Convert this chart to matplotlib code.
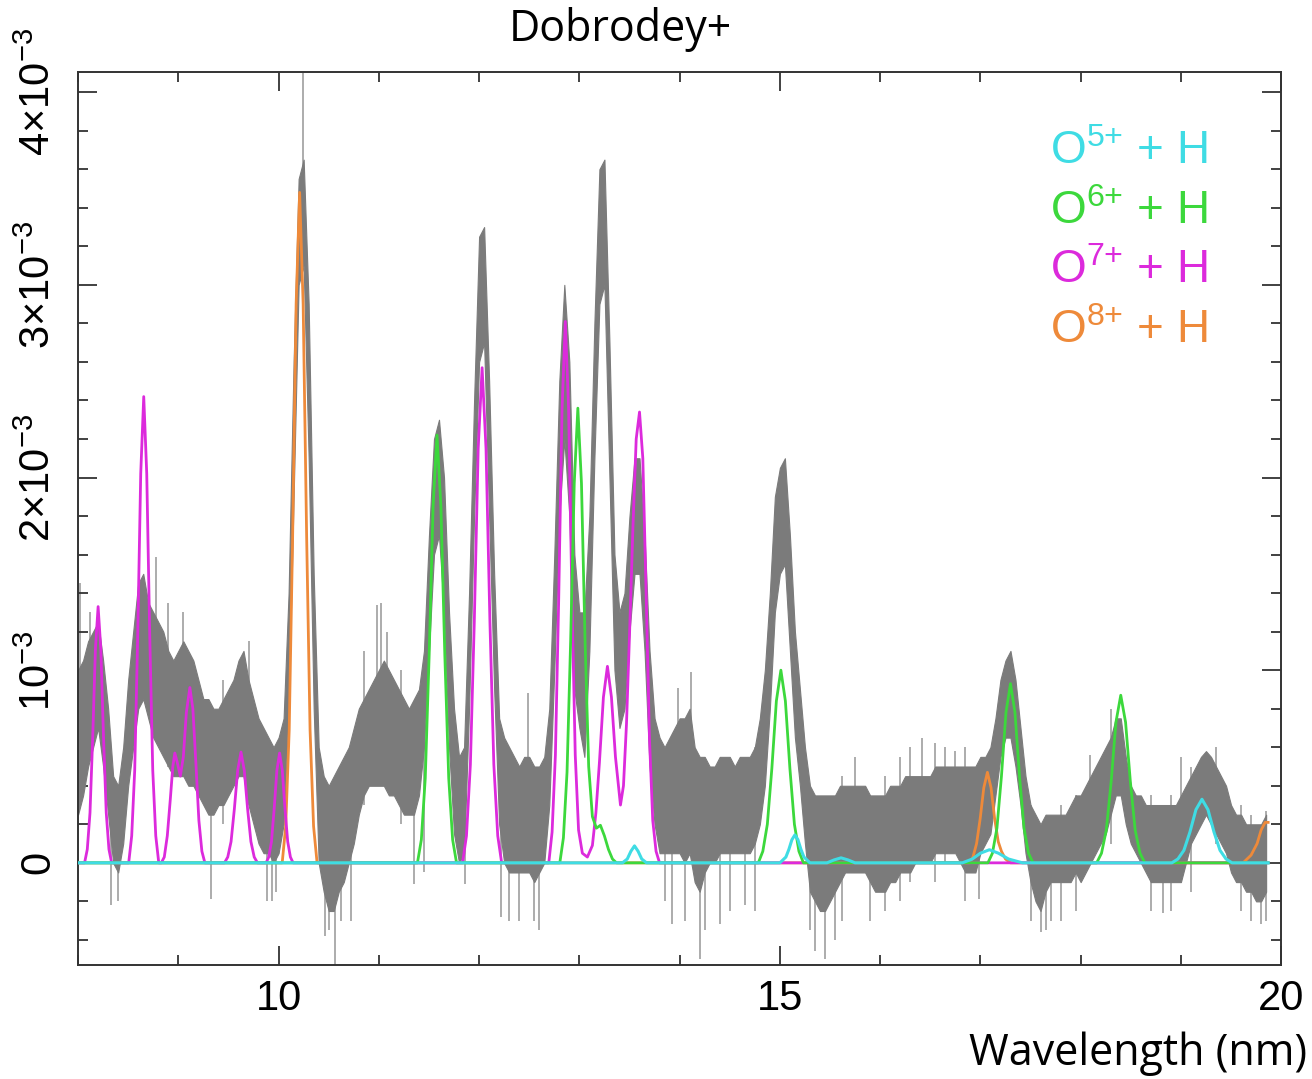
import numpy as np
import matplotlib.pyplot as plt

plt.rcParams['font.family'] = ['Liberation Sans', 'DejaVu Sans']
plt.rcParams['mathtext.fontset'] = 'custom'
plt.rcParams['mathtext.rm'] = 'Liberation Sans'
plt.rcParams['mathtext.it'] = 'Liberation Sans:italic'
plt.rcParams['mathtext.default'] = 'regular'

# measured spectrum, in units of 1e-3, read every 0.05 nm from 8.00 to 19.85 nm
wave = np.linspace(8.0, 19.85, 238)
data_hi = [
    1.00, 1.05, 1.15, 1.20, 1.25, 1.05, 0.80, 0.45, 0.40, 0.60, 0.95, 1.20, 1.45, 1.50, 1.35, 1.30, 1.25, 1.20, 1.10, 1.05,
    1.10, 1.15, 1.10, 1.05, 0.95, 0.85, 0.85, 0.80, 0.80, 0.85, 0.90, 0.95, 1.05, 1.10, 0.95, 0.85, 0.75, 0.70, 0.65, 0.60,
    0.65, 0.75, 1.40, 2.60, 3.55, 3.65, 2.90, 1.50, 0.60, 0.45, 0.40, 0.45, 0.50, 0.55, 0.60, 0.70, 0.80, 0.85, 0.90, 0.95,
    1.00, 1.05, 1.00, 0.95, 0.90, 0.85, 0.80, 0.85, 0.90, 1.10, 1.70, 2.20, 2.30, 2.00, 1.30, 0.80, 0.55, 0.60, 1.40, 2.40,
    3.25, 3.30, 2.50, 1.50, 0.75, 0.65, 0.60, 0.55, 0.50, 0.55, 0.55, 0.50, 0.50, 0.55, 0.80, 1.60, 2.50, 3.00, 2.60, 1.60,
    1.30, 1.30, 1.80, 2.80, 3.60, 3.65, 2.70, 1.60, 1.30, 1.40, 1.80, 2.10, 2.10, 1.70, 1.10, 0.75, 0.65, 0.60, 0.65, 0.70,
    0.75, 0.75, 0.80, 0.60, 0.55, 0.55, 0.50, 0.50, 0.55, 0.55, 0.55, 0.50, 0.55, 0.55, 0.55, 0.60, 0.75, 1.00, 1.40, 1.90,
    2.05, 2.10, 1.70, 1.20, 0.90, 0.60, 0.40, 0.35, 0.35, 0.35, 0.35, 0.35, 0.40, 0.40, 0.40, 0.40, 0.40, 0.40, 0.35, 0.35,
    0.35, 0.35, 0.40, 0.40, 0.40, 0.45, 0.45, 0.45, 0.45, 0.45, 0.45, 0.50, 0.50, 0.50, 0.50, 0.50, 0.50, 0.50, 0.50, 0.50,
    0.55, 0.55, 0.60, 0.75, 0.95, 1.05, 1.10, 0.95, 0.70, 0.45, 0.30, 0.25, 0.20, 0.25, 0.25, 0.25, 0.25, 0.25, 0.30, 0.35,
    0.35, 0.40, 0.45, 0.50, 0.55, 0.60, 0.65, 0.75, 0.75, 0.55, 0.40, 0.35, 0.35, 0.30, 0.30, 0.30, 0.30, 0.30, 0.30, 0.30,
    0.35, 0.40, 0.45, 0.50, 0.55, 0.58, 0.55, 0.50, 0.45, 0.40, 0.30, 0.25, 0.25, 0.20, 0.20, 0.20, 0.20, 0.25,
]
data_lo = [
    0.25, 0.35, 0.50, 0.60, 0.70, 0.50, 0.25, 0.00, -0.05, 0.10, 0.40, 0.60, 0.80, 0.85, 0.75, 0.65, 0.60, 0.55, 0.50, 0.45,
    0.45, 0.45, 0.40, 0.40, 0.35, 0.30, 0.25, 0.25, 0.30, 0.30, 0.35, 0.40, 0.45, 0.45, 0.30, 0.20, 0.10, 0.05, 0.05, 0.00,
    0.05, 0.20, 0.80, 1.90, 3.00, 3.10, 2.10, 0.80, 0.00, -0.15, -0.25, -0.25, -0.15, -0.10, 0.00, 0.10, 0.25, 0.35, 0.40, 0.40,
    0.40, 0.40, 0.35, 0.35, 0.30, 0.25, 0.25, 0.25, 0.35, 0.60, 1.10, 1.60, 1.70, 1.30, 0.60, 0.15, 0.00, 0.05, 0.80, 1.80,
    2.60, 2.70, 1.80, 0.90, 0.20, 0.00, -0.05, -0.05, -0.05, -0.05, -0.05, -0.10, -0.05, 0.00, 0.30, 1.00, 1.80, 2.20, 1.80, 0.90,
    0.70, 0.55, 1.10, 2.10, 2.90, 3.00, 2.00, 1.00, 0.70, 0.80, 1.20, 1.50, 1.50, 1.10, 0.50, 0.20, 0.05, 0.05, 0.05, 0.05,
    0.05, 0.00, 0.05, -0.10, -0.15, -0.05, 0.00, 0.00, 0.05, 0.05, 0.05, 0.05, 0.05, 0.05, 0.05, 0.10, 0.20, 0.40, 0.80, 1.30,
    1.50, 1.55, 1.10, 0.65, 0.40, 0.10, -0.15, -0.20, -0.25, -0.25, -0.20, -0.15, -0.10, -0.05, -0.05, -0.05, -0.05, -0.05, -0.10, -0.15,
    -0.15, -0.15, -0.10, -0.10, -0.05, -0.05, -0.05, 0.00, 0.00, 0.00, 0.00, 0.05, 0.05, 0.05, 0.05, 0.05, 0.00, -0.05, -0.05, -0.05,
    0.05, 0.10, 0.15, 0.35, 0.55, 0.65, 0.65, 0.50, 0.30, 0.05, -0.10, -0.20, -0.25, -0.15, -0.10, -0.10, -0.10, -0.10, -0.10, -0.05,
    -0.10, -0.05, 0.00, 0.05, 0.10, 0.15, 0.25, 0.35, 0.35, 0.20, 0.10, 0.05, 0.00, -0.05, -0.10, -0.10, -0.10, -0.10, -0.10, -0.10,
    -0.10, 0.00, 0.10, 0.15, 0.20, 0.25, 0.20, 0.15, 0.10, 0.05, -0.05, -0.10, -0.10, -0.15, -0.15, -0.20, -0.20, -0.15,
]

# single outlying error bars
spike_x = [8.02, 8.12, 8.33, 8.40, 8.78, 8.90, 9.05, 9.33, 9.45, 9.70, 9.88, 9.93, 9.97, 10.24,
           10.46, 10.50, 10.56, 10.62, 10.72, 10.85, 10.98, 11.02, 11.08, 11.22, 11.35, 11.45,
           11.86, 12.22, 12.30, 12.40, 12.49, 12.55, 12.60, 13.85, 13.92, 13.98, 14.05, 14.11,
           14.20, 14.25, 14.40, 14.50, 14.65, 14.75, 15.30, 15.35, 15.45, 15.55, 15.62, 15.75,
           15.90, 16.05, 16.20, 16.30, 16.42, 16.55, 16.65, 16.75, 16.85, 16.99, 17.50, 17.60,
           17.65, 17.70, 17.80, 17.95, 18.09, 18.30, 18.70, 18.82, 18.90, 19.00, 19.10, 19.35,
           19.60, 19.70, 19.80, 19.85]
spike_lo = [0.30, 0.60, -0.22, -0.20, 1.00, 0.50, 0.50, -0.19, 0.20, 0.30, -0.20, -0.20, -0.15, 3.60,
            -0.38, -0.35, -0.53, -0.30, -0.30, 0.30, 0.60, 0.60, 0.50, 0.20, -0.11, -0.05,
            -0.11, -0.28, -0.30, -0.30, 0.30, -0.30, -0.35, -0.20, -0.32, 0.40, -0.30, 0.40,
            -0.50, -0.35, -0.32, -0.25, -0.22, -0.25, -0.35, -0.46, -0.50, -0.40, -0.30, 0.10,
            -0.30, -0.25, -0.20, -0.10, 0.20, -0.10, 0.00, 0.20, -0.20, -0.19, -0.30, -0.36,
            -0.35, -0.30, -0.30, -0.25, 0.10, 0.10, -0.25, -0.26, -0.25, 0.10, -0.15, 0.10,
            -0.25, -0.30, -0.32, -0.30]
spike_hi = [1.45, 1.30, 0.40, 0.20, 1.59, 1.35, 1.30, 0.50, 0.95, 1.15, 0.40, 0.30, 0.50, 4.10,
            0.20, 0.20, 0.10, 0.30, 0.30, 1.10, 1.34, 1.35, 1.20, 1.00, 0.40, 0.90,
            0.40, 0.30, 0.20, 0.20, 0.88, 0.40, 0.10, 0.50, 0.20, 0.91, 0.30, 0.99,
            0.10, 0.30, 0.20, 0.50, 0.30, 0.60, 0.30, 0.10, 0.10, 0.30, 0.45, 0.55,
            0.30, 0.45, 0.55, 0.60, 0.65, 0.62, 0.60, 0.58, 0.60, 0.30, 0.30, 0.10,
            0.00, 0.00, 0.30, 0.35, 0.56, 0.80, 0.35, 0.10, 0.35, 0.55, 0.50, 0.60,
            0.30, 0.25, 0.10, 0.27]

# model line emission for each charge-exchange channel (units of 1e-3)
o5_x = [8.0, 13.43, 13.478, 13.514, 13.55, 13.586, 13.622, 13.67,
        15.0, 15.06, 15.09, 15.12, 15.15, 15.18, 15.21, 15.24, 15.30,
        15.47, 15.54, 15.61, 15.68, 15.75,
        16.82, 16.92, 17.0, 17.09, 17.18, 17.28, 17.42,
        18.91, 18.97, 19.03, 19.09, 19.15, 19.21, 19.27, 19.33, 19.39, 19.45, 19.51, 19.87]
o5_y = [0, 0, 0.02, 0.06, 0.088, 0.06, 0.02, 0,
        0, 0.03, 0.07, 0.12, 0.145, 0.12, 0.07, 0.03, 0,
        0, 0.015, 0.026, 0.015, 0,
        0, 0.02, 0.05, 0.068, 0.05, 0.02, 0,
        0, 0.02, 0.065, 0.16, 0.276, 0.33, 0.276, 0.16, 0.065, 0.02, 0, 0]

o6_x = [8.0, 11.385, 11.424, 11.463, 11.502, 11.541, 11.58, 11.619, 11.658, 11.697, 11.736, 11.775,
        12.805, 12.841, 12.877, 12.913, 12.949, 12.985, 13.021, 13.057, 13.093, 13.13, 13.17, 13.21,
        13.25, 13.29, 13.33, 13.37,
        14.785, 14.83, 14.875, 14.92, 14.965, 15.01, 15.055, 15.10, 15.145, 15.19, 15.235,
        17.075, 17.12, 17.165, 17.21, 17.255, 17.30, 17.345, 17.39, 17.435, 17.48, 17.525,
        18.16, 18.208, 18.256, 18.304, 18.352, 18.40, 18.448, 18.496, 18.544, 18.592, 18.64, 19.87]
o6_y = [0, 0, 0.12, 0.44, 1.08, 1.85, 2.22, 1.85, 1.08, 0.44, 0.12, 0,
        0, 0.13, 0.47, 1.15, 1.97, 2.36, 1.97, 1.15, 0.50, 0.24, 0.18, 0.195,
        0.14, 0.07, 0.02, 0,
        0, 0.06, 0.20, 0.49, 0.84, 1.00, 0.84, 0.49, 0.20, 0.06, 0,
        0, 0.05, 0.18, 0.45, 0.78, 0.93, 0.78, 0.45, 0.18, 0.05, 0,
        0, 0.05, 0.17, 0.42, 0.73, 0.87, 0.73, 0.42, 0.17, 0.05, 0, 0]

o7_x = [8.0, 8.065, 8.092, 8.119, 8.146, 8.173, 8.20, 8.227, 8.254, 8.281, 8.308, 8.335,
        8.505, 8.535, 8.565, 8.595, 8.625, 8.655, 8.685, 8.715, 8.745, 8.775, 8.805,
        8.83, 8.86, 8.89, 8.92, 8.945, 8.965, 8.99, 9.02, 9.05, 9.08, 9.115, 9.145, 9.175, 9.205, 9.235, 9.265,
        9.46, 9.493, 9.526, 9.559, 9.592, 9.625, 9.658, 9.691, 9.724, 9.757, 9.79,
        9.875, 9.902, 9.929, 9.956, 9.983, 10.01, 10.037, 10.064, 10.091, 10.118, 10.145,
        11.835, 11.874, 11.913, 11.952, 11.991, 12.03, 12.069, 12.108, 12.147, 12.186, 12.225,
        12.695, 12.728, 12.761, 12.794, 12.827, 12.86, 12.893, 12.926, 12.959, 12.992, 13.03, 13.08,
        13.13, 13.165, 13.20, 13.24, 13.28, 13.32, 13.36, 13.41, 13.44, 13.47, 13.50, 13.535, 13.567,
        13.60, 13.633, 13.666, 13.699, 13.732, 13.765, 13.80, 19.87]
o7_y = [0, 0, 0.07, 0.26, 0.65, 1.11, 1.33, 1.11, 0.65, 0.26, 0.07, 0,
        0, 0.14, 0.48, 1.18, 2.02, 2.42, 2.02, 1.18, 0.48, 0.14, 0,
        0, 0.03, 0.14, 0.33, 0.50, 0.57, 0.52, 0.45, 0.55, 0.78, 0.91, 0.80, 0.52, 0.22, 0.06, 0,
        0, 0.03, 0.11, 0.28, 0.48, 0.575, 0.48, 0.28, 0.11, 0.03, 0,
        0, 0.03, 0.11, 0.28, 0.48, 0.57, 0.48, 0.28, 0.11, 0.03, 0,
        0, 0.14, 0.51, 1.25, 2.15, 2.57, 2.15, 1.25, 0.51, 0.14, 0,
        0, 0.16, 0.56, 1.37, 2.35, 2.81, 2.35, 1.37, 0.56, 0.17, 0.05, 0.03,
        0.09, 0.26, 0.52, 0.86, 1.02, 0.86, 0.55, 0.30, 0.40, 0.72, 1.18, 1.75, 2.20,
        2.34, 2.10, 1.40, 0.65, 0.22, 0.06, 0, 0]

o8_x = [8.0, 10.036, 10.071, 10.106, 10.14, 10.175, 10.21, 10.245, 10.28, 10.314, 10.349, 10.384,
        16.89, 16.926, 16.962, 16.998, 17.034, 17.07, 17.106, 17.142, 17.178, 17.21, 17.25, 17.30,
        19.62, 19.70, 19.76, 19.80, 19.84, 19.87]
o8_y = [0, 0, 0.19, 0.69, 1.69, 2.90, 3.48, 2.90, 1.69, 0.69, 0.19, 0,
        0, 0.03, 0.10, 0.23, 0.39, 0.47, 0.39, 0.23, 0.11, 0.06, 0.02, 0,
        0, 0.04, 0.10, 0.17, 0.21, 0.21]

labels = [r'O$^{5{+}}$ + H', r'O$^{6{+}}$ + H', r'O$^{7{+}}$ + H', r'O$^{8{+}}$ + H']
colors = ['#3FDCE4', '#3CD83C', '#DC2ADC', '#EE8A3A']

fig = plt.figure(figsize=(13.12, 10.79), dpi=100)
ax = fig.add_axes([0.0595, 0.1057, 0.917, 0.8276])

ax.vlines(spike_x, spike_lo, spike_hi, color='#a6a6a6', lw=1.3, zorder=1)
ax.fill_between(wave, data_lo, data_hi, color='#7b7b7b', lw=0.8, zorder=2)

ax.plot(o8_x, o8_y, color=colors[3], lw=2.0, zorder=3)
ax.plot(o7_x, o7_y, color=colors[2], lw=2.0, zorder=4)
ax.plot(o6_x, o6_y, color=colors[1], lw=2.0, zorder=5)
ax.plot(o5_x, o5_y, color=colors[0], lw=2.2, zorder=6)

ax.set_xlim(8, 20)
ax.set_ylim(-0.53, 4.105)
ax.set_xticks([10, 15, 20])
ax.set_xticklabels(['10', '15', '20'])
ax.set_xticks(np.arange(8, 21, 1), minor=True)
ax.set_yticks([0, 1, 2, 3, 4])
ax.set_yticklabels(['0', r'$10^{-3}$', r'$2{\times}10^{-3}$', r'$3{\times}10^{-3}$', r'$4{\times}10^{-3}$'],
                   rotation=90, va='center')
ax.set_yticks(np.arange(-0.4, 4.1, 0.2), minor=True)
ax.tick_params(which='both', direction='in', top=True, right=True, width=1.3, color='#333333',
               labelsize=30)
ax.tick_params(which='major', length=14)
ax.tick_params(which='minor', length=7)
ax.tick_params(axis='x', pad=10)
ax.tick_params(axis='y', pad=14)
for s in ax.spines.values():
    s.set_linewidth(1.4)
    s.set_color('#333333')

# legend as coloured text
for i, (lab, c) in enumerate(zip(labels, colors)):
    ax.text(17.69, 3.69 - 0.31 * i, lab, color=c, fontsize=33, va='center', ha='left')

fig.text(0.473, 0.973, 'Dobrodey+', fontsize=31, family=['Open Sans', 'DejaVu Sans'],
         ha='center', va='center')
fig.text(0.996, 0.023, 'Wavelength (nm)', fontsize=31, family=['Open Sans', 'DejaVu Sans'],
         ha='right', va='center')

fig.savefig('out.png', dpi=100)
